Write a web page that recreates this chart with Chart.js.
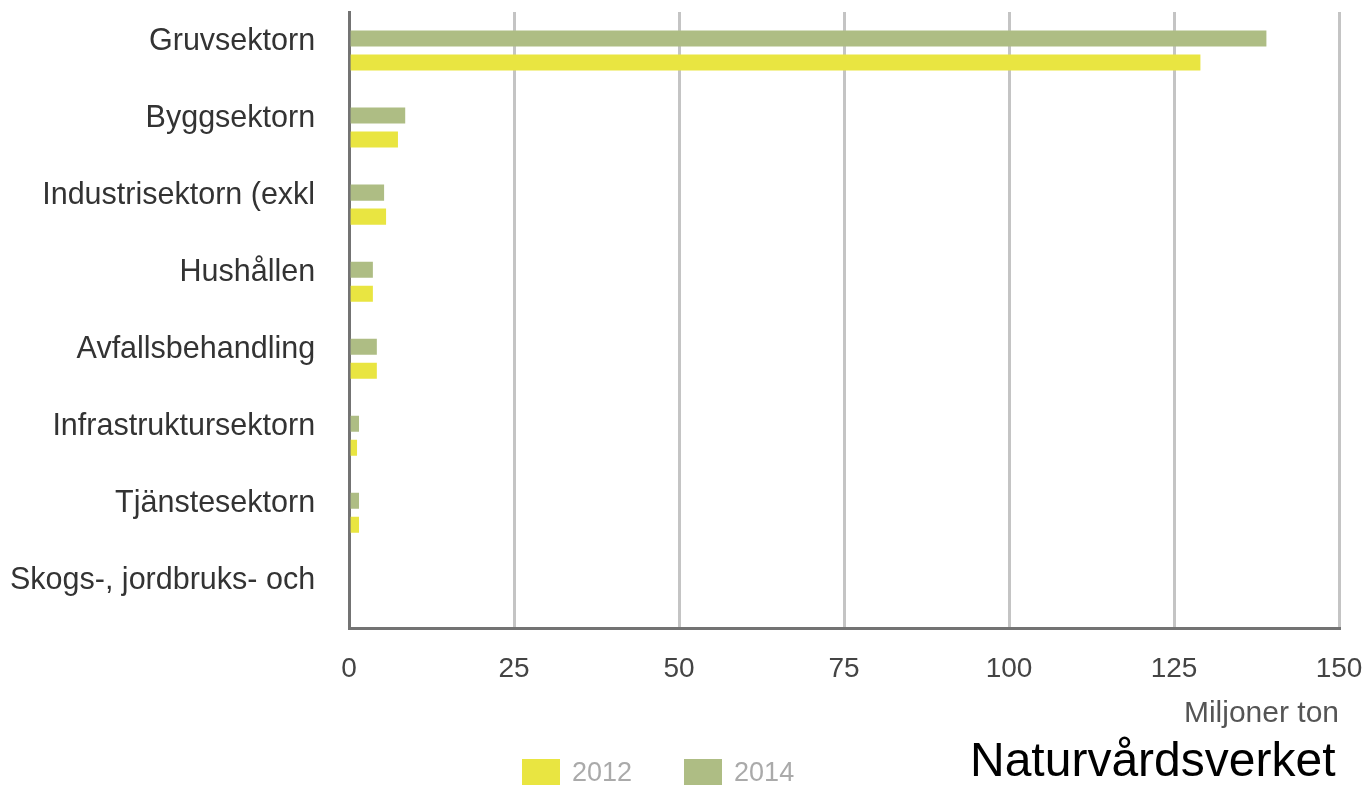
<!DOCTYPE html>
<html>
<head>
<meta charset="utf-8">
<script src="https://cdn.jsdelivr.net/npm/chart.js@4.4.0/dist/chart.umd.min.js"></script>
<style>
    html, body {margin: 0; padding: 0; background: #fff;}
    #wrap {position: relative; width: 1369px; height: 786px; font-family: "Liberation Sans", Arial, sans-serif;}
    #myChart {position: absolute; left: 0; top: 0;}
    #brand {position: absolute; left: 970px; top: 736px; font-size: 48px; line-height: 48px; color: #000;}
    #legend {position: absolute; left: 522px; top: 759px; display: flex; align-items: center;}
    #legend .item {display: flex; align-items: center; margin-right: 52px;}
    #legend .box {width: 38px; height: 26px; margin-right: 12px;}
    #legend .txt {font-size: 27px; line-height: 26px; color: #aaa;}
</style>
</head>
<body>
<div id="wrap">
    <canvas id="myChart" width="1369" height="786"></canvas>
    <div id="legend"></div>
    <div id="brand">Naturvårdsverket</div>
</div>
<script>
const sectors = ['Gruvsektorn', 'Byggsektorn', 'Industrisektorn (exkl', 'Hushållen', 'Avfallsbehandling',
    'Infrastruktursektorn', 'Tjänstesektorn', 'Skogs-, jordbruks- och'];
const values2014 = [139, 8.5, 5.3, 3.6, 4.2, 1.5, 1.5, 0];
const values2012 = [129, 7.4, 5.6, 3.6, 4.2, 1.2, 1.5, 0];
const xTicks = [0, 25, 50, 75, 100, 125, 150];

const ctx = document.getElementById('myChart');
let myChart = new Chart(ctx, {
    type: 'bar',
    data: {
        labels: sectors,
        datasets: [
            {
                label: '2014',
                data: values2014,
                backgroundColor: '#aebd84',
                categoryPercentage: 0.623,
                barPercentage: 0.667
            },
            {
                label: '2012',
                data: values2012,
                backgroundColor: '#e9e541',
                categoryPercentage: 0.623,
                barPercentage: 0.667
            }
        ]
    },
    options: {
        indexAxis: 'y',
        responsive: false,
        animation: false,
        layout: {padding: {top: 12, left: 10, right: 30, bottom: 54}},
        scales: {
            x: {
                min: xTicks[0],
                max: xTicks[xTicks.length - 1],
                afterBuildTicks: function (axis) {
                    axis.ticks = xTicks.map(v => ({value: v}));
                },
                afterFit: function (axis) {
                    // padding gets counted twice otherwise; let the last label run into the margin
                    axis.height -= axis.options.ticks.padding;
                    axis.paddingRight = 0;
                },
                grid: {color: '#c4c4c4', lineWidth: 3, drawTicks: false},
                border: {color: '#737373', width: 3},
                ticks: {
                    padding: 24,
                    color: '#444',
                    font: {family: 'Liberation Sans', size: 28}
                },
                title: {
                    display: true,
                    text: 'Miljoner ton',
                    align: 'end',
                    color: '#555',
                    padding: {top: 10, bottom: 0},
                    font: {family: 'Liberation Sans', size: 30}
                }
            },
            y: {
                grid: {display: false, drawTicks: false},
                border: {color: '#737373', width: 3},
                afterFit: function (axis) {
                    // no extra room above/below the labels, and padding only once
                    axis.paddingTop = 0;
                    axis.paddingBottom = 0;
                    axis.width -= axis.options.ticks.padding;
                },
                ticks: {
                    padding: 34,
                    labelOffset: -9,
                    color: '#333',
                    font: {family: 'Liberation Sans', size: 30.5}
                }
            }
        },
        plugins: {
            legend: {display: false},
            tooltip: {enabled: false}
        }
    }
});

// legend under the chart, 2012 first
const $legend = document.getElementById('legend');
myChart.data.datasets.slice().reverse().forEach(function (ds) {
    const item = document.createElement('div');
    item.className = 'item';
    item.innerHTML = '<span class="box" style="background:' + ds.backgroundColor + '"></span><span class="txt">' + ds.label + '</span>';
    $legend.appendChild(item);
});
</script>
</body>
</html>
